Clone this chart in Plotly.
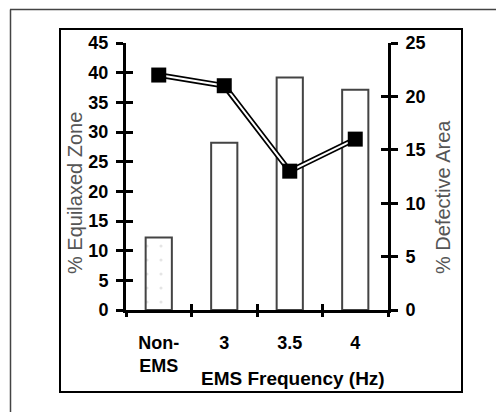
import plotly.graph_objects as go

categories = ["Non-<br>EMS", "3", "3.5", "4"]
equiaxed_zone = [12.2, 28.2, 39.2, 37.1]
defective_area = [22.0, 21.0, 13.0, 16.0]
left_ticks = [0, 5, 10, 15, 20, 25, 30, 35, 40, 45]
right_ticks = [0, 5, 10, 15, 20, 25]

n = len(categories)
xs = list(range(n))
boundaries = [i - 0.5 for i in range(n + 1)]

FONT = "Liberation Sans, Arial, sans-serif"
tickfont = dict(family=FONT, size=18, color="black", weight="bold")

PW, PH = 262, 267  # plot area size in px
def px(x):
    return (x - 126) / PW
def py(y):
    return (310 - y) / PH

fig = go.Figure()

fig.add_trace(go.Bar(
    x=xs, y=equiaxed_zone, width=0.4,
    marker=dict(
        color="white",
        line=dict(color="#444", width=2),
        pattern=dict(shape=[".", "", "", ""], fgcolor="#ccc", bgcolor="white",
                     size=14, solidity=0.04),
    ),
    xaxis="x", yaxis="y", showlegend=False,
))
fig.add_trace(go.Scatter(
    x=xs, y=defective_area, mode="lines",
    line=dict(color="black", width=5.5),
    xaxis="x", yaxis="y2", showlegend=False,
))
fig.add_trace(go.Scatter(
    x=xs, y=defective_area, mode="lines+markers",
    line=dict(color="white", width=2),
    marker=dict(symbol="square", size=15, color="black"),
    xaxis="x", yaxis="y2", showlegend=False,
))

fig.update_layout(
    width=496, height=412,
    margin=dict(l=126, r=108, t=43, b=102),
    paper_bgcolor="white", plot_bgcolor="white",
    xaxis=dict(
        range=[-0.5, n - 0.5], tickvals=xs, ticktext=categories,
        ticks="", showline=True, linecolor="black", linewidth=3,
        tickfont=tickfont, showgrid=False, zeroline=False,
        ticklabelstandoff=14,
    ),
    xaxis2=dict(
        overlaying="x", range=[-0.5, n - 0.5], tickvals=boundaries,
        ticks="outside", ticklen=6, tickwidth=3, tickcolor="black",
        showticklabels=False, showline=False, showgrid=False, zeroline=False,
        anchor="y", side="bottom",
    ),
    xaxis3=dict(
        overlaying="x", range=[-0.5, n - 0.5], tickvals=boundaries,
        ticks="inside", ticklen=6, tickwidth=3, tickcolor="black",
        showticklabels=False, showline=False, showgrid=False, zeroline=False,
        anchor="y", side="bottom",
    ),
    yaxis=dict(
        range=[0, 45], tickvals=left_ticks, ticks="outside", ticklen=7,
        tickwidth=3, tickcolor="black", showline=True, linecolor="black",
        linewidth=3, tickfont=tickfont, showgrid=False, zeroline=False,
        ticklabelstandoff=4,
    ),
    yaxis3=dict(
        overlaying="y", range=[0, 45], tickvals=left_ticks, ticks="inside",
        ticklen=7, tickwidth=3, tickcolor="black", showticklabels=False,
        showline=False, showgrid=False, zeroline=False, side="left", anchor="x",
    ),
    yaxis2=dict(
        overlaying="y", side="right", range=[0, 25], tickvals=right_ticks,
        ticks="outside", ticklen=7, tickwidth=3, tickcolor="black",
        showline=True, linecolor="black", linewidth=3, tickfont=tickfont,
        showgrid=False, zeroline=False, anchor="x", ticklabelstandoff=4,
    ),
    yaxis4=dict(
        overlaying="y", side="right", range=[0, 25], tickvals=right_ticks,
        ticks="inside", ticklen=7, tickwidth=3, tickcolor="black",
        showticklabels=False, showline=False, showgrid=False, zeroline=False,
        anchor="x",
    ),
)

# dummy invisible traces to activate overlay axes
for xa, ya in [("x2", "y"), ("x3", "y"), ("x", "y3"), ("x", "y4")]:
    fig.add_trace(go.Scatter(x=[0], y=[0], mode="markers", marker=dict(opacity=0),
                             xaxis=xa, yaxis=ya, showlegend=False, hoverinfo="skip"))

# frames
fig.add_shape(type="rect", xref="paper", yref="paper",
              x0=px(60), x1=px(462), y0=py(392), y1=py(29),
              line=dict(color="black", width=2), layer="below")
fig.add_shape(type="line", xref="paper", yref="paper",
              x0=px(10), x1=px(500), y0=py(9.5), y1=py(9.5),
              line=dict(color="#444", width=1.5))
fig.add_shape(type="line", xref="paper", yref="paper",
              x0=px(10.5), x1=px(10.5), y0=py(9.5), y1=py(420),
              line=dict(color="#444", width=1.5))

# axis titles
fig.add_annotation(text="% Equilaxed Zone", xref="paper", yref="paper",
                   x=px(75), y=py(193), textangle=-90, showarrow=False,
                   font=dict(family=FONT, size=20, color="#555"),
                   xanchor="center", yanchor="middle")
fig.add_annotation(text="% Defective Area", xref="paper", yref="paper",
                   x=px(443), y=py(197), textangle=-90, showarrow=False,
                   font=dict(family=FONT, size=20, color="#555"),
                   xanchor="center", yanchor="middle")
fig.add_annotation(text="EMS Frequency (Hz)", xref="paper", yref="paper",
                   x=px(293), y=py(378), showarrow=False,
                   font=dict(family=FONT, size=19, color="black", weight="bold"),
                   xanchor="center", yanchor="middle")

fig.write_html("out.html")
